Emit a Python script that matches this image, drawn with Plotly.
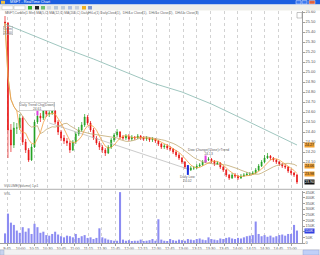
import plotly.graph_objects as go
import pandas as pd

# ---------------- data ----------------
first_open = 25.50
closes = [25.49, 24.42, 24.27, 24.44, 24.44, 24.54, 24.30, 24.22, 24.12, 24.25,
          24.50, 24.56, 24.54, 24.62, 24.58, 24.59, 24.61, 24.50, 24.40, 24.34,
          24.31, 24.29, 24.22, 24.30, 24.38, 24.42, 24.47, 24.55, 24.49, 24.42,
          24.34, 24.29, 24.25, 24.22, 24.19, 24.25, 24.32, 24.37, 24.40, 24.35,
          24.34, 24.36, 24.33, 24.35, 24.34, 24.36, 24.34, 24.33, 24.34, 24.32,
          24.33, 24.31, 24.28, 24.25, 24.26, 24.24, 24.23, 24.20, 24.17, 24.14,
          24.10, 24.05, 24.02, 24.04, 24.04, 24.06, 24.07, 24.10, 24.12, 24.13,
          24.11, 24.08, 24.09, 24.05, 24.02, 23.97, 23.94, 23.97, 23.96, 23.94,
          23.96, 23.97, 23.98, 23.98, 23.99, 24.02, 24.06, 24.10, 24.14, 24.16,
          24.14, 24.12, 24.10, 24.08, 24.06, 24.05, 24.01, 23.99, 23.97, 23.90]
highs = [25.56, 25.50, 24.48, 24.50, 24.49, 24.58, 24.56, 24.33, 24.24, 24.28,
         24.52, 24.60, 24.59, 24.66, 24.64, 24.63, 24.65, 24.62, 24.52, 24.42,
         24.37, 24.34, 24.31, 24.32, 24.40, 24.45, 24.50, 24.58, 24.57, 24.51,
         24.44, 24.36, 24.31, 24.27, 24.24, 24.27, 24.34, 24.39, 24.43, 24.41,
         24.37, 24.38, 24.38, 24.37, 24.36, 24.38, 24.37, 24.36, 24.36, 24.35,
         24.35, 24.34, 24.32, 24.29, 24.28, 24.28, 24.26, 24.24, 24.22, 24.19,
         24.15, 24.11, 24.07, 24.06, 24.06, 24.08, 24.09, 24.12, 24.14, 24.15,
         24.14, 24.12, 24.11, 24.10, 24.06, 24.03, 23.98, 23.99, 23.99, 23.97,
         23.98, 23.99, 24.00, 24.00, 24.01, 24.04, 24.08, 24.12, 24.17, 24.19,
         24.17, 24.15, 24.13, 24.11, 24.09, 24.08, 24.06, 24.03, 24.00, 23.98]
lows = [25.45, 24.14, 24.20, 24.24, 24.38, 24.42, 24.27, 24.19, 24.10, 24.11,
        24.24, 24.48, 24.50, 24.52, 24.55, 24.55, 24.57, 24.48, 24.37, 24.31,
        24.28, 24.26, 24.19, 24.21, 24.28, 24.36, 24.40, 24.45, 24.47, 24.40,
        24.32, 24.27, 24.22, 24.19, 24.16, 24.18, 24.23, 24.30, 24.35, 24.33,
        24.32, 24.32, 24.31, 24.31, 24.32, 24.33, 24.32, 24.31, 24.31, 24.30,
        24.30, 24.29, 24.26, 24.23, 24.23, 24.22, 24.21, 24.18, 24.15, 24.12,
        24.08, 24.03, 24.00, 24.01, 24.02, 24.03, 24.05, 24.06, 24.09, 24.11,
        24.09, 24.06, 24.07, 24.03, 24.00, 23.95, 23.92, 23.93, 23.94, 23.92,
        23.93, 23.95, 23.96, 23.96, 23.97, 23.98, 24.01, 24.05, 24.09, 24.13,
        24.12, 24.10, 24.08, 24.06, 24.04, 24.03, 23.99, 23.97, 23.95, 23.88]
volumes_k = [85, 260, 180, 160, 110, 90, 140, 100, 130, 80,
             170, 140, 90, 100, 70, 65, 80, 100, 75, 60,
             50, 65, 60, 50, 80, 45, 60, 70, 45, 50,
             35, 45, 130, 50, 40, 30, 25, 20, 20, 450,
             30, 20, 25, 15, 20, 20, 30, 15, 20, 25,
             35, 20, 210, 30, 20, 15, 35, 25, 20, 30,
             25, 20, 35, 30, 25, 35, 40, 30, 25, 50,
             35, 30, 25, 40, 35, 45, 50, 40, 35, 45,
             40, 50, 60, 65, 70, 190, 80, 60, 70, 55,
             65, 50, 60, 70, 75, 65, 80, 80, 160, 110]
long_ma_idx = [0, 10, 20, 30, 40, 50, 60, 67, 70, 80, 90, 99]
long_ma_vals = [25.48, 25.36, 25.24, 25.13, 25.01, 24.89, 24.80, 24.72, 24.68, 24.54, 24.40, 24.27]
trend_idx = [15, 62]
trend_vals = [24.49, 24.03]
event_idx = [11, 68, 62]
event_price = [24.60, 24.13, 24.02]
event_text = ["Daily Trend Chg(Down)<br>24.61", "Dow Change(Close)>Trend<br>24.13", "Daily Low<br>24.02"]
time_labels = ["9:45", "10:00", "10:15", "10:30", "10:45", "11:00", "11:15", "11:30", "11:45", "12:00", "12:15",
               "12:30", "12:45", "13:00", "13:15", "13:30", "13:45", "14:00", "14:15", "14:30", "14:45", "15:00"]
price_ticks = [25.6, 25.5, 25.4, 25.3, 25.2, 25.1, 25.0, 24.9, 24.8, 24.7, 24.6, 24.5, 24.4, 24.3, 24.2, 24.1, 24.0]
hidden_price_ticks = [24.0]          # covered by the last-value boxes
vol_ticks = [0, 50, 100, 150, 200, 250, 300, 350, 400, 450]
hidden_vol_ticks = [100]             # covered by the last-volume box

# ---------------- derived ----------------
opens = [first_open] + closes[:-1]
idx = list(range(len(closes)))
s = pd.Series(closes)
ma_fast = s.rolling(5, min_periods=1).mean()
ma_slow = s.rolling(12, min_periods=1).mean()

W, H = 320, 255
ML, MR, MT, MB = 0, 18, 11, 12
PW, PH = W - ML - MR, H - MT - MB


def px(x, y):
    return (x - ML) / PW, (H - MB - y) / PH


def rect(x0, y0, x1, y1, fill, line=None, lw=0):
    a, b = px(x0, y1)
    c, d = px(x1, y0)
    return dict(type="rect", xref="paper", yref="paper", x0=a, y0=b, x1=c, y1=d,
                fillcolor=fill, line=dict(color=line or fill, width=lw), layer="above")


def text(x, y, t, size=3.6, color="#555", xanchor="left"):
    a, b = px(x, y)
    return dict(xref="paper", yref="paper", x=a, y=b, text=t, showarrow=False,
                xanchor=xanchor, yanchor="middle", font=dict(size=size, color=color, family="Liberation Sans"))


fig = go.Figure()
fig.add_trace(go.Scatter(x=long_ma_idx, y=long_ma_vals, mode="lines",
                         line=dict(color="#86b8ae", width=0.8), hoverinfo="skip"))
fig.add_trace(go.Scatter(x=trend_idx, y=trend_vals, mode="lines",
                         line=dict(color="#b4b4b4", width=0.7), hoverinfo="skip"))
fig.add_trace(go.Scatter(x=idx, y=ma_slow, mode="lines",
                         line=dict(color="#c2aa72", width=0.8), hoverinfo="skip"))
fig.add_trace(go.Scatter(x=idx, y=ma_fast, mode="lines",
                         line=dict(color="#f2a040", width=0.8), hoverinfo="skip"))
fig.add_trace(go.Candlestick(x=idx, open=opens, high=highs, low=lows, close=closes,
                             increasing=dict(line=dict(color="#20a020", width=0.7), fillcolor="#20a020"),
                             decreasing=dict(line=dict(color="#e81010", width=0.7), fillcolor="#e81010"),
                             whiskerwidth=0, hoverinfo="skip"))
fig.add_trace(go.Scatter(x=event_idx[:2], y=event_price[:2], mode="markers",
                         marker=dict(symbol="line-ns", size=5, line=dict(color="#e040e0", width=2))))
fig.add_trace(go.Scatter(x=event_idx[2:], y=event_price[2:], mode="markers",
                         marker=dict(symbol="line-ns", size=7, line=dict(color="#1830e0", width=2))))
fig.add_trace(go.Bar(x=idx, y=volumes_k, yaxis="y2", marker=dict(color="#8c8cf2", line=dict(width=0)),
                     width=0.7, hoverinfo="skip"))

small = dict(size=3.4, color="#666", family="Liberation Sans")
annotations = [
    dict(x=event_idx[0], y=event_price[0], xref="x", yref="y", text=event_text[0], showarrow=False, yshift=6,
         font=small, bordercolor="#aaa", borderwidth=0.5, borderpad=0, bgcolor="white"),
    dict(x=event_idx[1], y=event_price[1], xref="x", yref="y", text=event_text[1], showarrow=False,
         yshift=7, xshift=3, font=small),
    dict(x=event_idx[2], y=event_price[2], xref="x", yref="y", text=event_text[2], showarrow=False,
         yshift=-9, font=small),
    dict(x=0, y=closes[0], xref="x", yref="y", text="Open<br>25.50", showarrow=False, yshift=-7, xshift=3,
         font=small, bordercolor="#aaa", borderwidth=0.5, borderpad=0),
    text(8, 2.3, "MSFT - RealTime Chart", size=3.8, color="white"),
    text(3, 13.3, "MSFT,Candle(1 Min) MA(5,C) MA(12,C) MA(200,C) DailyHiLo(1) DailyClose(1),  DHi/Lo Close(1),  DHi/Lo Close(2),  DHi/Lo Close(3)",
         size=3.3, color="#666"),
    text(2, 186.3, "VOLUME(Volume) 1,x1", size=3.3, color="#666"),
    text(2, 194, "VOL", size=3.3, color="#666"),
]

last_boxes = [(long_ma_vals[-1], "#f0a030", "#222"), (ma_slow.iloc[-1], "#f0a030", "#222"),
              (ma_fast.iloc[-1], "#f0a030", "#222"), (closes[-1], "#111", "white")]
for val, bg, fc in last_boxes:
    annotations.append(dict(x=1.008, y=val, xref="paper", yref="y", text=f"{val:.2f}", showarrow=False,
                            xanchor="left", yanchor="middle", bgcolor=bg, borderpad=0,
                            font=dict(size=3.6, color=fc, family="Liberation Sans")))
annotations.append(dict(x=1.008, y=volumes_k[-1], xref="paper", yref="y2", text=f"{volumes_k[-1]}K", showarrow=False,
                        xanchor="left", yanchor="middle", bgcolor="#3040e0", borderpad=0,
                        font=dict(size=3.6, color="white", family="Liberation Sans")))

shapes = [
    rect(0, 0, 320, 4.6, "#1c5fe0"),
    rect(1, 0.8, 5, 3.8, "#f0c040"),
    rect(296, 0.6, 301, 4, "#3a78f0", "#e8eefc", 0.5),
    rect(302, 0.6, 307, 4, "#3a78f0", "#e8eefc", 0.5),
    rect(309, 0.6, 315, 4, "#e0603a", "#fbe0d8", 0.5),
    rect(0, 4.6, 320, 10.6, "#efefea"),
    rect(2, 5.8, 13, 9.6, "#ffffff", "#aaa", 0.4),
    rect(14, 5.8, 25, 9.6, "#ffffff", "#aaa", 0.4),
    rect(28, 6, 32, 9.5, "#30b030"),
    rect(35, 6, 39, 9.5, "#222222"),
    rect(41, 6, 45, 9.5, "#70c070"),
    rect(47, 6, 51, 9.5, "#d0d8e0"),
    rect(54, 6, 58, 9.5, "#b8c8d8"),
    rect(61, 6, 65, 9.5, "#c0ccd8"),
    rect(68, 6, 72, 9.5, "#b0c0e0"),
    rect(75, 6, 79, 9.5, "#c8d0dc"),
    rect(82, 6, 86, 9.5, "#f0b020"),
    rect(88, 6, 92, 9.5, "#8098d0"),
    rect(297, 12.5, 302, 18, "white", "#888", 0.5),
    dict(type="line", xref="paper", yref="paper", x0=0, x1=1.06, y0=px(0, 189.3)[1], y1=px(0, 189.3)[1],
         line=dict(color="#9a9a9a", width=0.8)),
    rect(0, 249.5, 320, 255, "#f2f2f2", "#d8d8d8", 0.5),
    rect(0, 250, 4, 255, "#c8d4f0", "#9ab", 0.4),
    rect(303, 250, 319, 255, "#c0d0f8", "#8a9ad0", 0.4),
]

axis_font = dict(size=3.9, color="#555", family="Liberation Sans")
fig.update_layout(
    width=W, height=H, margin=dict(l=ML, r=MR, t=MT, b=MB),
    paper_bgcolor="white", plot_bgcolor="white", showlegend=False, boxgap=0.55,
    xaxis=dict(domain=[0, 1], range=[-1.7, 100.7], anchor="y2",
               tickvals=[0.68 + 4.6 * k for k in range(len(time_labels))], ticktext=time_labels,
               tickfont=axis_font, showgrid=True, gridcolor="#d2d2d2", griddash="dot", gridwidth=0.6,
               showline=True, linecolor="#a0a0a0", linewidth=0.6, ticks="outside", ticklen=2,
               tickcolor="#a0a0a0", rangeslider=dict(visible=False), zeroline=False),
    yaxis=dict(domain=[(243 - 188) / PH, 1], range=[23.84, 25.61], side="right", anchor="x",
               tickvals=price_ticks,
               ticktext=["" if v in hidden_price_ticks else f"{v:.2f}" for v in price_ticks],
               tickfont=axis_font, showgrid=False, showline=True, linecolor="#a0a0a0", linewidth=0.6,
               ticks="outside", ticklen=2, tickcolor="#a0a0a0", zeroline=False),
    yaxis2=dict(domain=[0, (243 - 191) / PH], range=[0, 460], side="right", anchor="x",
                tickvals=vol_ticks,
                ticktext=["" if v in hidden_vol_ticks else (f"{v}K" if v else "0") for v in vol_ticks],
                tickfont=axis_font, showgrid=False, showline=True, linecolor="#a0a0a0", linewidth=0.6,
                ticks="outside", ticklen=2, tickcolor="#a0a0a0", zeroline=False),
    shapes=shapes,
    annotations=annotations,
)
fig.write_html("out.html")
